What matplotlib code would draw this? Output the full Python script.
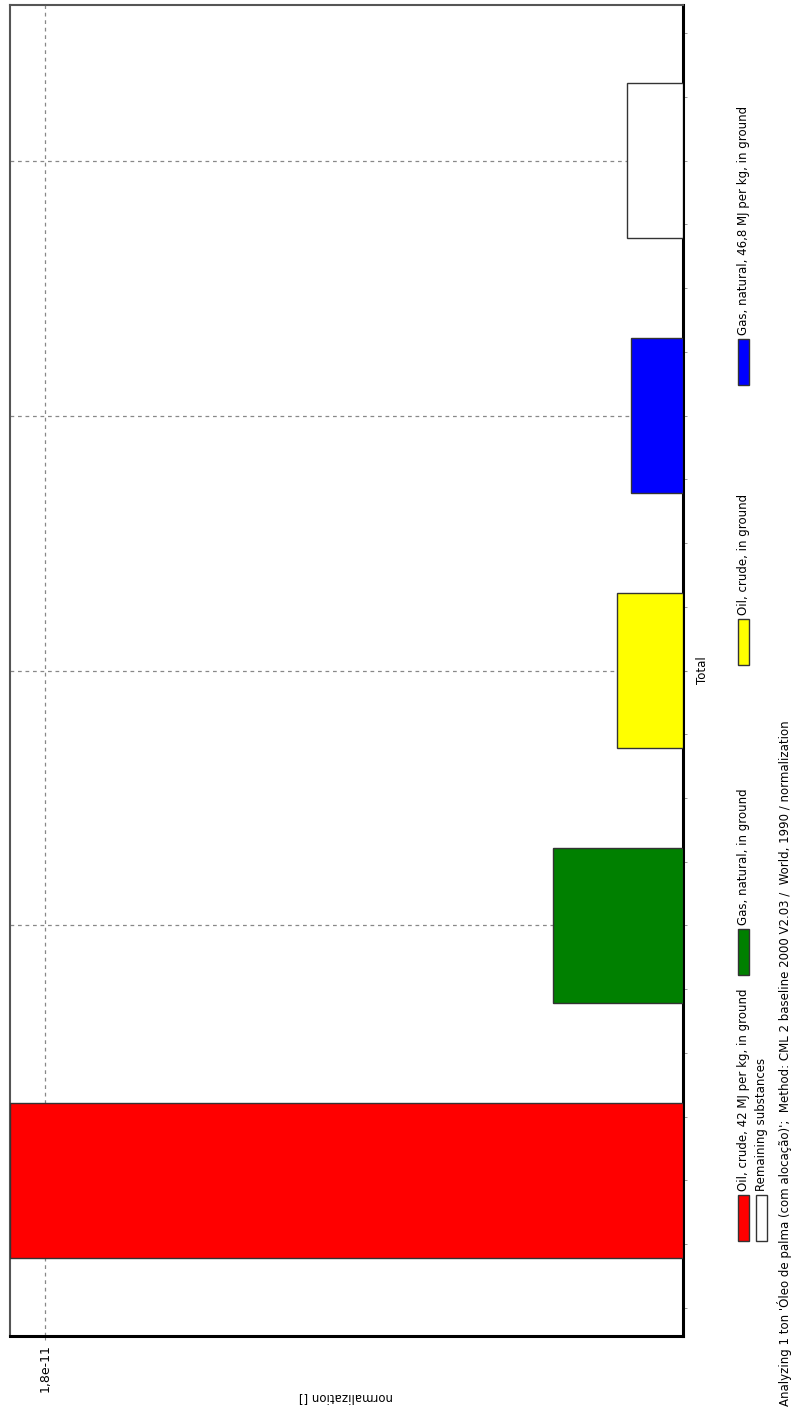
import matplotlib
matplotlib.use("Agg")
import matplotlib.pyplot as plt
from matplotlib.patches import Rectangle
import numpy as np

# data (SimaPro normalization chart, drawn rotated 90 degrees)
substances = [
    "Oil, crude, 42 MJ per kg, in ground",
    "Gas, natural, in ground",
    "Oil, crude, in ground",
    "Gas, natural, 46,8 MJ per kg, in ground",
    "Remaining substances",
]
values = [1.9e-11, 3.67e-12, 1.87e-12, 1.47e-12, 1.57e-12]
colors = ["#ff0000", "#008000", "#ffff00", "#0000ff", "#ffffff"]
category = "Total"
value_ticks = [1.8e-11]
value_tick_labels = ["1,8e-11"]
axis_label = "normalization []"
footer = ("Analyzing 1 ton 'Óleo de palma (com alocação)';  Method: CML 2 baseline 2000 V2.03 /  "
          "World, 1990 / normalization")

W, H = 795, 1411
FS = 8.5
plt.rcParams["font.family"] = ["DejaVu Sans"]
fig = plt.figure(figsize=(W / 100, H / 100), dpi=100)


def fx(px):
    return px / W


def fy(py):
    return 1 - py / H


ax = fig.add_axes([fx(10), fy(1336), fx(683) - fx(10), fy(5) - fy(1336)])

pos = np.arange(len(values))
ax.barh(pos, values, height=0.61, color=colors, edgecolor="#333333", linewidth=1, zorder=3)

ax.set_xlim(values[0], 0)
ax.set_ylim(-0.61, len(values) - 1 + 0.61)

# dashed grid: one value line, one line per bar centre
for v in value_ticks:
    ax.axvline(v, color="#888888", linestyle=(0, (3, 3)), linewidth=0.9, zorder=1)
for p in pos:
    ax.axhline(p, color="#888888", linestyle=(0, (3, 3)), linewidth=0.9, zorder=1)

ax.set_xticks(value_ticks)
ax.set_xticklabels(value_tick_labels, rotation=90, fontsize=FS + 0.5)
ax.tick_params(axis="x", length=3, color="#888888", pad=3)

ax.yaxis.tick_right()
ax.set_yticks([pos.mean()])
ax.set_yticklabels([category], rotation=90, va="center", fontsize=FS)
ax.set_yticks(np.arange(-0.5, len(values) - 0.5 + 0.01, 0.25), minor=True)
ax.tick_params(axis="y", which="both", length=3, color="#888888", pad=6)

for side in ["left", "top"]:
    ax.spines[side].set_color("#555555")
    ax.spines[side].set_linewidth(1.5)
for side in ["right", "bottom"]:
    ax.spines[side].set_color("black")
    ax.spines[side].set_linewidth(2.2)

fig.text(fx(346), fy(1397), axis_label, rotation=180, ha="center", va="center", fontsize=FS)

# legend, laid out in the rotated frame
legend_cols = [743, 743, 743, 743, 761]
legend_bottoms = [1241, 975, 665, 385, 1241]
for lab, col, x, y in zip(substances, colors, legend_cols, legend_bottoms):
    fig.patches.append(Rectangle((fx(x - 5), fy(y)), fx(11), 46 / H,
                                 transform=fig.transFigure, facecolor=col,
                                 edgecolor="#333333", linewidth=1))
    fig.text(fx(x + 1), fy(y - 50), lab, rotation=90, ha="center", va="bottom", fontsize=FS)

fig.text(fx(785), fy(1406), footer, rotation=90, ha="center", va="bottom", fontsize=FS)

fig.savefig("out.png", dpi=100)
